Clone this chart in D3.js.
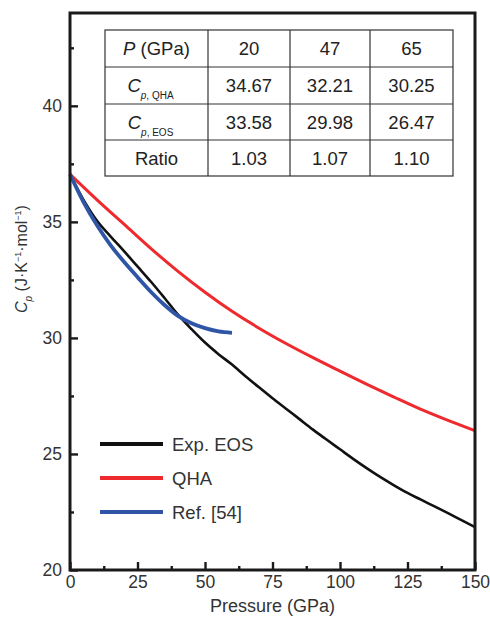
<!DOCTYPE html>
<html>
<head>
<meta charset="utf-8">
<script src="https://cdn.jsdelivr.net/npm/d3@7"></script>
<style>
  html, body { margin: 0; padding: 0; background: #fff; }
  svg { display: block; font-family: "Liberation Sans", Arial, sans-serif; }
</style>
</head>
<body>
<svg id="chart" width="490" height="618"></svg>
<script>
// Cp vs pressure — Exp. EOS, QHA and Ref. [54], with a small summary table

// --- data ---
const eosP = [0, 5, 10, 15, 20, 25, 30, 35, 40, 45, 50, 55, 60, 65, 70, 75, 80, 85, 90, 95, 100,
              105, 110, 115, 120, 125, 130, 135, 140, 145, 150];
const eosCp = [37.05, 35.95, 35.05, 34.38, 33.74, 33.08, 32.42, 31.72, 31.0, 30.38, 29.8, 29.3, 28.85,
               28.35, 27.87, 27.4, 26.95, 26.5, 26.05, 25.62, 25.2, 24.78, 24.38, 24.0, 23.65, 23.32,
               23.03, 22.74, 22.45, 22.15, 21.85];

const qhaP = [0, 10, 20, 30, 40, 50, 60, 70, 80, 90, 100, 110, 120, 130, 140, 150];
const qhaCp = [37.05, 35.95, 34.9, 33.85, 32.87, 31.97, 31.15, 30.42, 29.76, 29.15, 28.57, 28.0,
               27.45, 26.92, 26.45, 26.0];

const refP = [0, 5, 10, 15, 20, 25, 30, 35, 40, 45, 50, 55, 60];
const refCp = [37.05, 35.85, 34.85, 34.0, 33.28, 32.62, 31.98, 31.42, 30.95, 30.63, 30.42, 30.28, 30.22];

const xTicks = [0, 25, 50, 75, 100, 125, 150];
const xMinor = [12.5, 37.5, 62.5, 87.5, 112.5, 137.5];
const yTicks = [20, 25, 30, 35, 40];
const yMinor = [22.5, 27.5, 32.5, 37.5, 42.5];

const tableCols = ["20", "47", "65"];
const cpQHA = ["34.67", "32.21", "30.25"];
const cpEOS = ["33.58", "29.98", "26.47"];
const ratio = ["1.03", "1.07", "1.10"];

const series = [
  { name: "Exp. EOS", P: eosP, Cp: eosCp, color: "#111111", width: 2.6 },
  { name: "QHA", P: qhaP, Cp: qhaCp, color: "#ee2a2e", width: 3 },
  { name: "Ref. [54]", P: refP, Cp: refCp, color: "#2f56a6", width: 3.8 },
];

// --- layout ---
const margin = { left: 70, right: 15, top: 13, bottom: 48 };
const width = 490, height = 618;
const plotW = width - margin.left - margin.right;
const plotH = height - margin.top - margin.bottom;

const svg = d3.select("#chart");
const g = svg.append("g").attr("transform", `translate(${margin.left},${margin.top})`);

const x = d3.scaleLinear().domain([0, 150]).range([0, plotW]);
const y = d3.scaleLinear().domain([20, 44]).range([plotH, 0]);

// curves (drawn under the frame); blue ends up on top
const line = d3.line().curve(d3.curveMonotoneX);
const curves = g.append("g");
series.forEach(s => {
  curves.append("path")
    .attr("d", line(s.P.map((p, i) => [x(p), y(s.Cp[i])])))
    .attr("fill", "none")
    .attr("stroke", s.color)
    .attr("stroke-width", s.width)
    .attr("stroke-linejoin", "round");
});

// --- axes: inward ticks, no domain path (frame drawn separately) ---
function styleAxis(sel) {
  sel.select(".domain").remove();
  sel.selectAll(".tick line").attr("stroke", "#1a1a1a").attr("stroke-width", 2.4);
  sel.selectAll(".tick text").attr("fill", "#333").style("font-size", "17.5px");
}

g.append("g")
  .attr("transform", `translate(0,${plotH})`)
  .call(d3.axisBottom(x).tickValues(xTicks).tickSize(-8).tickPadding(6).tickFormat(d3.format("d")))
  .call(styleAxis);

g.append("g")
  .attr("transform", `translate(0,${plotH})`)
  .call(d3.axisBottom(x).tickValues(xMinor).tickSize(-4).tickFormat(""))
  .call(styleAxis);

g.append("g")
  .call(d3.axisLeft(y).tickValues(yTicks).tickSize(-8).tickPadding(8).tickFormat(d3.format("d")))
  .call(styleAxis);

g.append("g")
  .call(d3.axisLeft(y).tickValues(yMinor).tickSize(-4).tickFormat(""))
  .call(styleAxis);

// frame
g.append("rect")
  .attr("width", plotW).attr("height", plotH)
  .attr("fill", "none")
  .attr("stroke", "#1a1a1a")
  .attr("stroke-width", 3);

// axis titles
svg.append("text")
  .attr("x", margin.left + plotW / 2)
  .attr("y", 612)
  .attr("text-anchor", "middle")
  .attr("fill", "#333")
  .style("font-size", "18px")
  .text("Pressure (GPa)");

const yl = svg.append("text")
  .attr("transform", `translate(27,${margin.top + y(33.4)}) rotate(-90)`)
  .attr("text-anchor", "middle")
  .attr("fill", "#333")
  .style("font-size", "16px");
yl.append("tspan").style("font-style", "italic").text("C");
yl.append("tspan").style("font-style", "italic").style("font-size", "10px").attr("dy", 5).text("p");
yl.append("tspan").attr("dy", -5).text(" (J·K");
yl.append("tspan").style("font-size", "9px").attr("dy", -6).text("−1");
yl.append("tspan").attr("dy", 6).text("·mol");
yl.append("tspan").style("font-size", "9px").attr("dy", -6).text("−1");
yl.append("tspan").attr("dy", 6).text(")");

// --- legend ---
const legend = g.append("g").attr("transform", "translate(30,431)");
series.forEach((s, i) => {
  const row = legend.append("g").attr("transform", `translate(0,${i * 34})`);
  row.append("line")
    .attr("x1", 0).attr("x2", 63)
    .attr("stroke", s.color).attr("stroke-width", 4);
  row.append("text")
    .attr("x", 72).attr("dy", "0.36em")
    .attr("fill", "#333")
    .style("font-size", "18.5px")
    .text(s.name);
});

// --- table ---
const colX = [105, 208, 290, 370, 453];
const rowY = [30, 67, 104, 140, 176];
const tbl = svg.append("g");

tbl.append("rect")
  .attr("x", colX[0]).attr("y", rowY[0])
  .attr("width", colX[4] - colX[0]).attr("height", rowY[4] - rowY[0])
  .attr("fill", "#fff").attr("stroke", "#333").attr("stroke-width", 1.2);
colX.slice(1, 4).forEach(cx => {
  tbl.append("line").attr("x1", cx).attr("x2", cx).attr("y1", rowY[0]).attr("y2", rowY[4])
    .attr("stroke", "#333").attr("stroke-width", 1.2);
});
rowY.slice(1, 4).forEach(ry => {
  tbl.append("line").attr("x1", colX[0]).attr("x2", colX[4]).attr("y1", ry).attr("y2", ry)
    .attr("stroke", "#333").attr("stroke-width", 1.2);
});

function cell(ci, ri) {
  return tbl.append("text")
    .attr("x", (colX[ci] + colX[ci + 1]) / 2)
    .attr("y", (rowY[ri] + rowY[ri + 1]) / 2)
    .attr("dy", "0.36em")
    .attr("text-anchor", "middle")
    .attr("fill", "#222")
    .style("font-size", "18.5px");
}

const h0 = cell(0, 0);
h0.append("tspan").style("font-style", "italic").text("P");
h0.append("tspan").text(" (GPa)");

function cpLabel(ri, sub) {
  const t = cell(0, ri).attr("x", (colX[0] + colX[1]) / 2 - 6);
  t.append("tspan").style("font-style", "italic").text("C");
  t.append("tspan").style("font-size", "10px").style("font-style", "italic").attr("dy", 7).text("p");
  t.append("tspan").style("font-size", "10px").text(", " + sub);
}
cpLabel(1, "QHA");
cpLabel(2, "EOS");
cell(0, 3).text("Ratio");

[tableCols, cpQHA, cpEOS, ratio].forEach((row, ri) => {
  row.forEach((v, ci) => cell(ci + 1, ri).text(v));
});
</script>
</body>
</html>
